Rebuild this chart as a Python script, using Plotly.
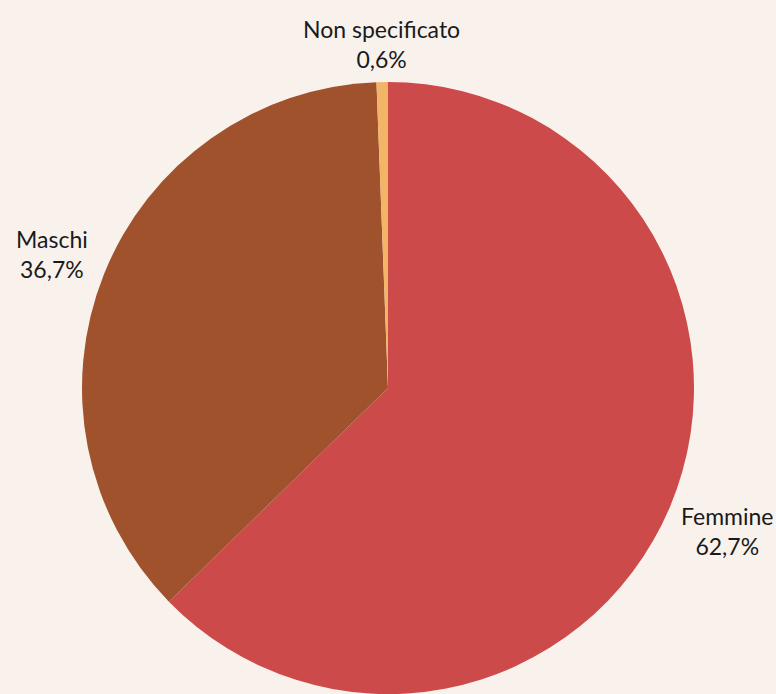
import math
import plotly.graph_objects as go

labels = ["Femmine", "Maschi", "Non specificato"]
values = [62.7, 36.7, 0.6]
colors = ["#cd4a4a", "#a0522d", "#f2b466"]

# layout / style constants
W, H = 776, 694
M_TOP = 82
FONT_SIZE = 23
LABEL_GAP = 12          # gap between pie edge and label box
HALF_H = 24             # approx half height of a two-line label

fig = go.Figure(go.Pie(
    labels=labels,
    values=values,
    sort=False,
    direction="clockwise",
    rotation=0,
    automargin=False,
    marker=dict(colors=colors, line=dict(width=0)),
    textinfo="none",
    hoverinfo="label+percent",
    showlegend=False,
))

# outside labels centred along each slice's mid-angle
plot_w, plot_h = W, H - M_TOP
radius = min(plot_w, plot_h) / 2
cx, cy = plot_w / 2, plot_h / 2
total = sum(values)
cum = 0.0
annotations = []
for lab, val in zip(labels, values):
    frac = val / total
    theta = 2 * math.pi * (cum + frac / 2)
    cum += frac
    ux, uy = math.sin(theta), math.cos(theta)
    half_w = 0.55 * FONT_SIZE * len(lab) / 2
    extent = abs(ux) * half_w + abs(uy) * HALF_H
    r_lab = radius + LABEL_GAP + extent
    px = cx + ux * r_lab
    py = cy + uy * r_lab
    pct = f"{frac * 100:.1f}".replace(".", ",") + "%"
    annotations.append(dict(
        x=px / plot_w, y=py / plot_h, xref="paper", yref="paper",
        text=f"{lab}<br>{pct}", showarrow=False,
        xanchor="center", yanchor="middle", align="center",
        font=dict(size=FONT_SIZE, color="#1a1a1a", family="Lato"),
    ))

fig.update_layout(
    width=W, height=H,
    margin=dict(l=0, r=0, t=M_TOP, b=0, autoexpand=False),
    paper_bgcolor="#f9f1ec",
    plot_bgcolor="#f9f1ec",
    separators=",.",
    font=dict(family="Lato"),
    annotations=annotations,
)

fig.write_html(
    "out.html",
    config={"displayModeBar": False},
    post_script="document.body.style.margin='0';document.body.style.background='#f9f1ec';document.body.style.overflow='hidden';",
)
